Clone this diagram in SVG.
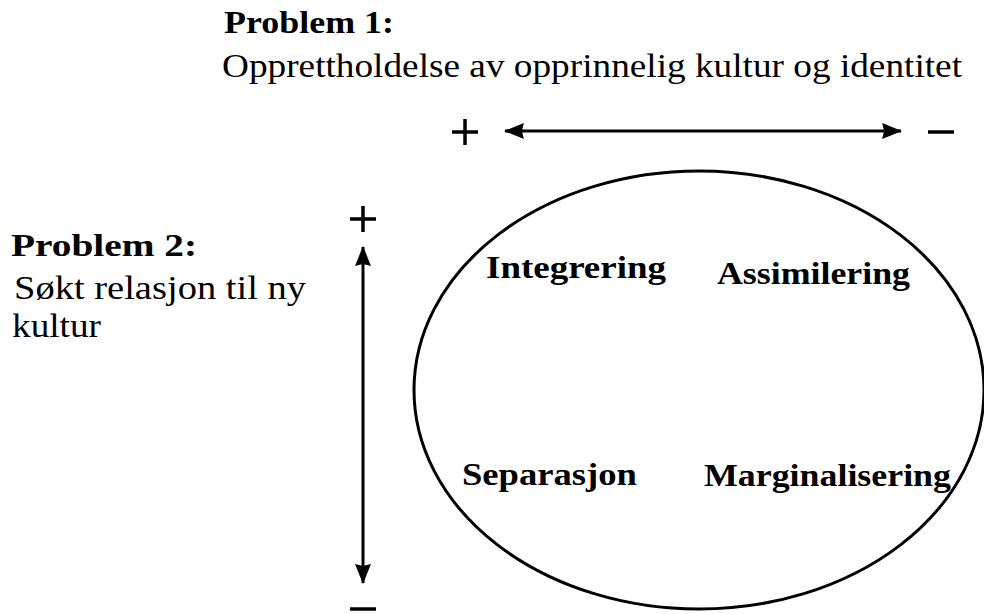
<svg xmlns="http://www.w3.org/2000/svg" width="984" height="614" viewBox="0 0 984 614">
<style>
text{font-family:"Liberation Serif","Times New Roman",serif;fill:#000}
.h{font-size:31px;font-weight:bold}
.t{font-size:33px}
.q{font-size:31px;font-weight:bold}
.ln{stroke:#000;stroke-width:3;fill:none}
.sg{stroke:#000;stroke-width:3.5;fill:none}
</style>
<defs>
<marker id="ah" viewBox="0 0 20 16" refX="19" refY="8" markerWidth="6.7" markerHeight="5.3" orient="auto-start-reverse" markerUnits="strokeWidth">
<path d="M0,0 L20,8 L0,16 L2,8 Z" fill="#000"/>
</marker>
</defs>
<rect width="984" height="614" fill="#fff"/>
<g id="problem1">
<text class="h" x="224" y="33" textLength="170" lengthAdjust="spacingAndGlyphs">Problem 1:</text>
<text class="t" x="222" y="77" textLength="740" lengthAdjust="spacingAndGlyphs">Opprettholdelse av opprinnelig kultur og identitet</text>
</g>
<g id="problem2">
<text class="h" x="11" y="256" textLength="186" lengthAdjust="spacingAndGlyphs">Problem 2:</text>
<text class="t" x="14" y="299" textLength="292" lengthAdjust="spacingAndGlyphs">Søkt relasjon til ny</text>
<text class="t" x="12" y="337" textLength="89" lengthAdjust="spacingAndGlyphs">kultur</text>
</g>
<g id="ellipse">
<ellipse class="ln" cx="699" cy="390" rx="285" ry="219"/>
</g>
<g id="quadrants">
<text class="q" x="486" y="278" textLength="180" lengthAdjust="spacingAndGlyphs">Integrering</text>
<text class="q" x="717" y="284" textLength="193" lengthAdjust="spacingAndGlyphs">Assimilering</text>
<text class="q" x="462" y="485" textLength="175" lengthAdjust="spacingAndGlyphs">Separasjon</text>
<text class="q" x="704" y="486" textLength="247" lengthAdjust="spacingAndGlyphs">Marginalisering</text>
</g>
<g id="connectors">
<line class="ln" x1="505" y1="131" x2="901" y2="131" marker-start="url(#ah)" marker-end="url(#ah)"/>
<line class="ln" x1="363" y1="247" x2="363" y2="583" marker-start="url(#ah)" marker-end="url(#ah)"/>
</g>
<g id="signs">
<path class="sg" d="M452,132 H478 M465,119 V145"/>
<path class="sg" d="M928,132 H954"/>
<path class="sg" d="M350,219 H376 M363,206 V232"/>
<path class="sg" d="M350,609 H376"/>
</g>
</svg>
